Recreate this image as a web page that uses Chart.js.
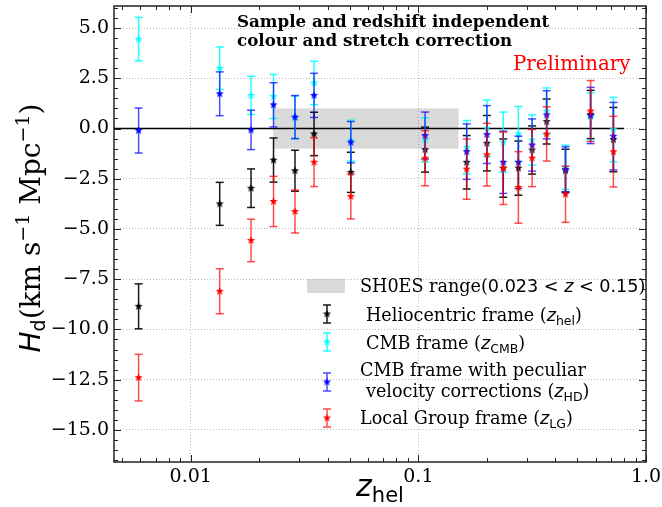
<!DOCTYPE html>
<html>
<head>
<meta charset="utf-8">
<script src="https://cdn.jsdelivr.net/npm/chart.js@4.4.0/dist/chart.umd.min.js"></script>
<style>
  html, body { margin: 0; padding: 0; background: #fff; }
</style>
</head>
<body>
<canvas id="hd" width="662" height="507"></canvas>
<script>
// redshift of each bin (z_hel)
const zhel = [0.0059, 0.0134, 0.0184, 0.0231, 0.0287, 0.0348, 0.0505, 0.107, 0.163, 0.200, 0.236, 0.275, 0.316, 0.366, 0.443, 0.571, 0.719];

// H_d in each frame, with its 1 sigma error
const hdHel = [-8.85, -3.75, -2.97, -1.57, -2.1, -0.27, -2.18, -1.05, -1.68, -0.73, -1.97, -1.97, -1.07, 0.35, -2.1, 0.7, -0.55];
const errHel = [1.12, 1.07, 0.96, 1.1, 1.02, 1.08, 1.0, 1.12, 1.33, 1.38, 1.45, 1.35, 1.2, 1.12, 1.07, 1.2, 1.6];

const hdCmb = [4.45, 3.0, 1.65, 1.6, 0.55, 2.27, -0.6, -0.57, -0.93, 0.02, -0.68, -0.27, -0.57, 0.87, -1.93, 0.6, -0.05];
const errCmb = [1.08, 1.06, 0.95, 1.1, 1.07, 1.08, 1.02, 1.1, 1.33, 1.4, 1.5, 1.37, 1.25, 1.15, 1.1, 1.17, 1.6];

const hdHd = [-0.1, 1.73, -0.07, 1.18, 0.57, 1.65, -0.68, -0.35, -1.15, -0.3, -1.68, -1.68, -0.82, 0.68, -2.03, 0.65, -0.38];
const errHd = [1.12, 1.09, 0.98, 1.1, 1.07, 1.1, 1.03, 1.17, 1.38, 1.44, 1.55, 1.3, 1.3, 1.2, 1.12, 1.4, 1.68];

const hdLg = [-12.4, -8.1, -5.57, -3.63, -4.13, -1.68, -3.38, -1.48, -2.02, -1.3, -1.98, -2.93, -1.47, -0.27, -3.27, 0.87, -1.15];
const errLg = [1.16, 1.12, 1.06, 1.25, 1.07, 1.21, 1.12, 1.37, 1.5, 1.56, 1.8, 1.78, 1.42, 1.35, 1.4, 1.52, 1.76];

// SH0ES range box and the zero line
const shoesZ = [0.023, 0.15];
const shoesH = [-1, 1];
const zeroZ = [0.0046, 0.8];

// ticks
const xMajor = [0.01, 0.1, 1];
const yMajor = [-15, -12.5, -10, -7.5, -5, -2.5, 0, 2.5, 5];

const SERIF = '"DejaVu Serif", serif';
const SANS = '"DejaVu Sans", sans-serif';

// filled star like matplotlib '*'
function starImg(color) {
  const c = document.createElement('canvas');
  c.width = 11; c.height = 11;
  const g = c.getContext('2d');
  g.fillStyle = color;
  g.beginPath();
  for (let k = 0; k < 10; k++) {
    const r = k % 2 ? 1.8 : 4.3;
    const a = -Math.PI / 2 + k * Math.PI / 5;
    const px = 5.5 + r * Math.cos(a), py = 5.5 + r * Math.sin(a);
    if (k) g.lineTo(px, py); else g.moveTo(px, py);
  }
  g.closePath();
  g.fill();
  return c;
}

// error bars as line segments, caps are the 'line' point style
function errPts(v, e) {
  const out = [];
  zhel.forEach((z, i) => {
    out.push({x: z, y: v[i] - e[i]}, {x: z, y: v[i] + e[i]}, {x: z, y: null});
  });
  return out;
}
function pts(v) {
  return zhel.map((z, i) => ({x: z, y: v[i]}));
}

const series = [
  {v: hdLg, e: errLg, col: '#ff0000', ecol: 'rgba(255,0,0,0.7)'},
  {v: hdHd, e: errHd, col: '#0000ff', ecol: 'rgba(0,0,255,0.7)'},
  {v: hdCmb, e: errCmb, col: '#00ffff', ecol: 'rgba(0,255,255,0.85)'},
  {v: hdHel, e: errHel, col: '#000000', ecol: 'rgba(0,0,0,0.9)'}
];

const datasets = [];
series.forEach((s, k) => {
  datasets.push({
    type: 'scatter', data: pts(s.v), order: 2 * k,
    pointStyle: starImg(s.col), pointRadius: 5
  });
  datasets.push({
    type: 'line', data: errPts(s.v, s.e), order: 2 * k + 1,
    borderColor: s.ecol, borderWidth: 1.5, spanGaps: false,
    pointStyle: 'line', pointRadius: 4, pointBorderWidth: 1.5,
    pointBorderColor: s.ecol, pointBackgroundColor: s.ecol
  });
});
datasets.push({
  type: 'line', data: zeroZ.map(z => ({x: z, y: 0})), order: 20,
  borderColor: '#000', borderWidth: 1.5, pointRadius: 0
});

// draw a run of text pieces with different fonts / offsets
function rich(ctx, segs, x, y, align) {
  let w = 0;
  segs.forEach(s => { ctx.font = s.f; s.w = ctx.measureText(s.t).width; w += s.w; });
  let cx = align === 'center' ? x - w / 2 : x;
  ctx.textAlign = 'left';
  ctx.textBaseline = 'alphabetic';
  segs.forEach(s => {
    ctx.font = s.f;
    ctx.fillText(s.t, cx, y + (s.dy || 0));
    cx += s.w;
  });
}

function legendBar(ctx, x, y, col, ecol) {
  ctx.strokeStyle = ecol;
  ctx.lineWidth = 1.5;
  ctx.beginPath();
  ctx.moveTo(x, y - 9); ctx.lineTo(x, y + 9);
  ctx.moveTo(x - 4, y - 9); ctx.lineTo(x + 4, y - 9);
  ctx.moveTo(x - 4, y + 9); ctx.lineTo(x + 4, y + 9);
  ctx.stroke();
  ctx.drawImage(starImg(col), x - 5.5, y - 5.5);
}

const decor = {
  id: 'decor',
  beforeDatasetsDraw(chart) {
    const {ctx, scales: {x, y}} = chart;
    const x0 = x.getPixelForValue(shoesZ[0]), x1 = x.getPixelForValue(shoesZ[1]);
    const y0 = y.getPixelForValue(shoesH[1]), y1 = y.getPixelForValue(shoesH[0]);
    ctx.save();
    ctx.fillStyle = 'rgba(128,128,128,0.3)';
    ctx.fillRect(x0, y0, x1 - x0, y1 - y0);
    ctx.restore();
  },
  afterDraw(chart) {
    const {ctx, chartArea: a, scales: {x, y}} = chart;
    ctx.save();
    // frame
    ctx.strokeStyle = '#222';
    ctx.lineWidth = 1.5;
    ctx.strokeRect(a.left, a.top, a.right - a.left, a.bottom - a.top);
    // inward ticks on all sides
    ctx.lineWidth = 1;
    ctx.beginPath();
    for (let v = -16.5; v <= 6.01; v += 0.5) {
      const py = Math.round(y.getPixelForValue(v)) + 0.5;
      if (py < a.top || py > a.bottom) continue;
      const len = yMajor.includes(v) ? 7 : 4;
      ctx.moveTo(a.left, py); ctx.lineTo(a.left + len, py);
      ctx.moveTo(a.right, py); ctx.lineTo(a.right - len, py);
    }
    for (let d = 0.001; d < 1.5; d *= 10) {
      for (let m = 1; m <= 9; m++) {
        const v = d * m;
        const px = Math.round(x.getPixelForValue(v)) + 0.5;
        if (px < a.left || px > a.right + 1) continue;
        const len = m === 1 ? 7 : 4;
        ctx.moveTo(px, a.bottom); ctx.lineTo(px, a.bottom - len);
        ctx.moveTo(px, a.top); ctx.lineTo(px, a.top + len);
      }
    }
    ctx.stroke();

    // axis titles
    ctx.fillStyle = '#000';
    rich(ctx, [
      {t: 'z', f: 'italic 30px ' + SANS},
      {t: 'hel', f: '21px ' + SANS, dy: 6}
    ], (a.left + a.right) / 2, 496, 'center');

    ctx.save();
    ctx.translate(40, 228);
    ctx.rotate(-Math.PI / 2);
    rich(ctx, [
      {t: 'H', f: 'italic 28px ' + SANS},
      {t: 'd', f: '19px ' + SANS, dy: 5},
      {t: '(km s', f: '28px ' + SERIF},
      {t: '\u22121', f: '19px ' + SERIF, dy: -11},
      {t: ' Mpc', f: '28px ' + SERIF},
      {t: '\u22121', f: '19px ' + SERIF, dy: -11},
      {t: ')', f: '28px ' + SERIF}
    ], 0, 0, 'center');
    ctx.restore();

    // annotations
    ctx.font = 'bold 16.7px ' + SERIF;
    ctx.textAlign = 'left';
    ctx.textBaseline = 'middle';
    ctx.fillText('Sample and redshift independent', 237, 23);
    ctx.fillText('colour and stretch correction', 237, 42);
    ctx.fillStyle = '#ff0000';
    ctx.font = '19.8px ' + SERIF;
    ctx.fillText('Preliminary', 513, 65);

    // legend
    ctx.fillStyle = 'rgba(128,128,128,0.3)';
    ctx.fillRect(307, 279, 38, 14);
    ctx.fillStyle = '#000';
    const F = '17.6px ' + SERIF, FS = '17.6px ' + SANS, FI = 'italic 17.6px ' + SANS, FB = '12.5px ' + SANS;
    rich(ctx, [
      {t: 'SH0ES range(', f: F}, {t: '0.023 < ', f: FS}, {t: 'z', f: FI},
      {t: ' < 0.15', f: FS}, {t: ')', f: F}
    ], 360, 292);
    legendBar(ctx, 327, 314, '#000000', 'rgba(0,0,0,0.9)');
    rich(ctx, [{t: 'Heliocentric frame (', f: F}, {t: 'z', f: FI}, {t: 'hel', f: FB, dy: 4}, {t: ')', f: F}], 366, 321);
    legendBar(ctx, 327, 342, '#00ffff', 'rgba(0,255,255,0.85)');
    rich(ctx, [{t: 'CMB frame (', f: F}, {t: 'z', f: FI}, {t: 'CMB', f: FB, dy: 4}, {t: ')', f: F}], 366, 349);
    legendBar(ctx, 327, 382, '#0000ff', 'rgba(0,0,255,0.7)');
    rich(ctx, [{t: 'CMB frame with peculiar', f: F}], 360, 376);
    rich(ctx, [{t: 'velocity corrections (', f: F}, {t: 'z', f: FI}, {t: 'HD', f: FB, dy: 4}, {t: ')', f: F}], 366, 397);
    legendBar(ctx, 327, 418, '#ff0000', 'rgba(255,0,0,0.7)');
    rich(ctx, [{t: 'Local Group frame (', f: F}, {t: 'z', f: FI}, {t: 'LG', f: FB, dy: 4}, {t: ')', f: F}], 360, 424);
    ctx.restore();
  }
};

new Chart(document.getElementById('hd'), {
  type: 'scatter',
  data: {datasets: datasets},
  options: {
    responsive: false,
    animation: false,
    events: [],
    layout: {padding: {top: 6, right: 16, left: 0, bottom: 0}},
    plugins: {legend: {display: false}, tooltip: {enabled: false}},
    scales: {
      x: {
        type: 'logarithmic', min: 0.0046, max: 1.0,
        afterBuildTicks: s => { s.ticks = xMajor.map(v => ({value: v})); },
        afterFit: s => { s.height = 45; s.paddingLeft = 0; s.paddingRight = 0; },
        ticks: {
          font: {family: SERIF, size: 19}, color: '#000', padding: 4,
          maxRotation: 0, autoSkip: false,
          callback: v => (v === 1 ? '1.0' : String(v))
        },
        grid: {color: '#bdbdbd', lineWidth: 1, drawTicks: false},
        border: {display: false, dash: [1, 2]}
      },
      y: {
        min: -16.6, max: 6.1,
        afterBuildTicks: s => { s.ticks = yMajor.map(v => ({value: v})); },
        afterFit: s => { s.width = 114; s.paddingTop = 0; s.paddingBottom = 0; },
        ticks: {
          font: {family: SERIF, size: 19}, color: '#000', padding: 5,
          callback: v => v.toFixed(1).replace('-', '\u2212')
        },
        grid: {color: '#bdbdbd', lineWidth: 1, drawTicks: false},
        border: {display: false, dash: [1, 2]}
      }
    }
  },
  plugins: [decor]
});
</script>
</body>
</html>
